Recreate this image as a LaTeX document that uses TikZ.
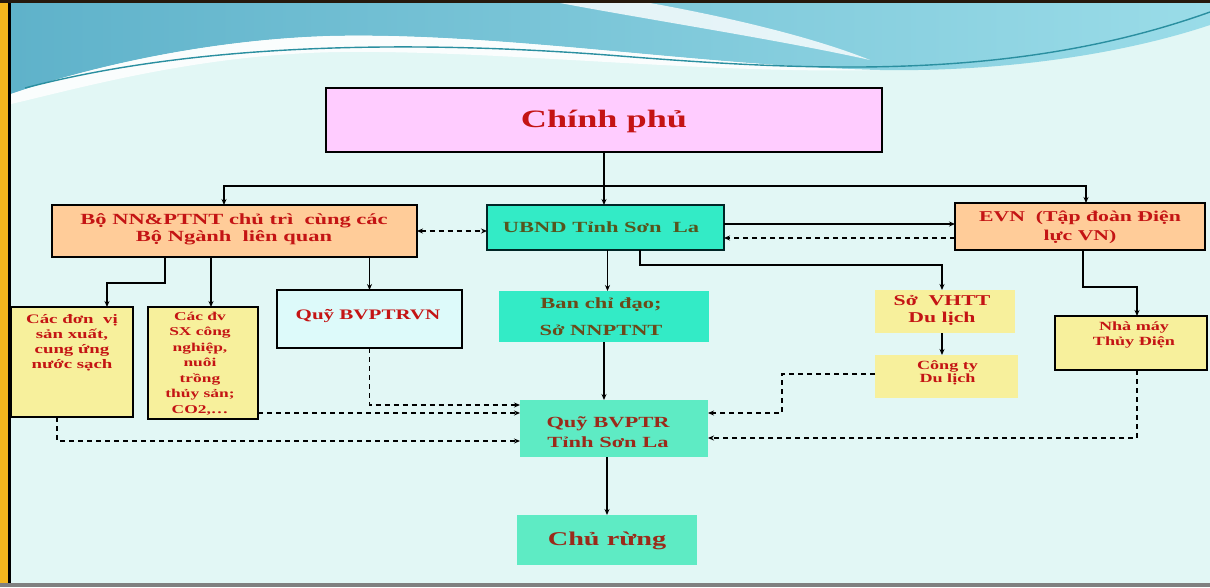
\documentclass[tikz,border=0pt]{standalone}
\usepackage{fontspec}
\newfontfamily\dfont{Liberation Serif}[FakeStretch=1.45]
\usetikzlibrary{arrows.meta}
\definecolor{bg}{HTML}{E2F7F5}
\definecolor{pinkbox}{HTML}{FFCCFF}
\definecolor{orangebox}{HTML}{FFCC99}
\definecolor{turq}{HTML}{33EBC6}
\definecolor{turqlight}{HTML}{5EEBC4}
\definecolor{yellowbox}{HTML}{F7F09C}
\definecolor{cyanbox}{HTML}{DDFAFA}
\definecolor{txtred}{HTML}{C41414}
\definecolor{txtolive}{HTML}{55561E}
\definecolor{txtbrown}{HTML}{6B4A1A}
\definecolor{txtdred}{HTML}{9A2A1A}
\definecolor{wavedark}{HTML}{5FB2CA}
\definecolor{wavelight}{HTML}{9ADCE8}
\definecolor{waveline}{HTML}{2A8FA0}
\definecolor{goldstrip}{HTML}{F4B71E}
\tikzset{
  box/.style={rectangle, inner sep=0pt, outer sep=0pt},
  bbox/.style={box, draw=black, line width=1.6pt},
  txt/.style={inner sep=0pt, align=center, text=txtred},
  conn/.style={line width=1.7pt, draw=black, -{Stealth[length=6pt,width=5pt]}},
  dconn/.style={conn, dash pattern=on 5pt off 4pt},
  dconnb/.style={line width=1.7pt, draw=black, dash pattern=on 5pt off 4pt, {Stealth[length=6pt,width=5pt]}-{Stealth[length=6pt,width=5pt]}},
}
\newcommand{\fs}[2]{\dfont\bfseries\fontsize{#1}{#2}\selectfont}
\begin{document}
\begin{tikzpicture}[x=1pt,y=-1pt]
\useasboundingbox (0,0) rectangle (1210,587);
% background
\fill[bg] (0,0) rectangle (1210,587);
% top wave decoration
\shade[left color=wavedark, right color=wavelight] (11,3) -- (1210,3) -- (1210,25)
  .. controls (1120,55) and (1000,72) .. (880,70)
  .. controls (700,66) and (500,32) .. (330,36)
  .. controls (200,40) and (80,70) .. (11,94) -- cycle;
\fill[white, opacity=0.85] (11,94) .. controls (80,70) and (200,40) .. (330,36)
  .. controls (500,32) and (700,66) .. (880,70)
  .. controls (700,74) and (500,50) .. (340,52)
  .. controls (200,54) and (80,88) .. (11,104) -- cycle;
\fill[white, opacity=0.8] (560,3) .. controls (650,20) and (780,40) .. (870,60)
  .. controls (800,32) and (700,12) .. (650,3) -- cycle;
\draw[waveline, line width=1.4pt] (25,88) .. controls (200,42) and (420,40) .. (620,56)
  .. controls (820,72) and (1020,80) .. (1210,12);
% frame
\fill[goldstrip] (0,0) rectangle (8,587);
\fill[black] (8,0) rectangle (11,587);
\fill[black!80!brown] (0,0) rectangle (1210,3);
\fill[gray] (0,583) rectangle (1210,587);

% boxes
\node[bbox, fill=pinkbox, minimum width=556pt, minimum height=64pt] (cp) at (604,120) {};
\node[bbox, fill=orangebox, minimum width=365pt, minimum height=52pt] (bo) at (234.5,231) {};
\node[bbox, fill=turq, draw=black!70!teal, minimum width=237pt, minimum height=45pt] (ub) at (605.5,227.5) {};
\node[bbox, fill=orangebox, minimum width=250pt, minimum height=47pt] (evn) at (1080,226.5) {};
\node[bbox, fill=yellowbox, minimum width=122pt, minimum height=110pt] (dv1) at (72,362) {};
\node[bbox, fill=yellowbox, minimum width=110pt, minimum height=112pt] (dv2) at (203,363) {};
\node[bbox, fill=cyanbox, minimum width=185pt, minimum height=58pt] (qvn) at (369.5,319) {};
\node[box, fill=turq, minimum width=210pt, minimum height=51pt] (bcd) at (604,316.5) {};
\node[box, fill=yellowbox, minimum width=140pt, minimum height=43pt] (vh) at (945,311.5) {};
\node[box, fill=yellowbox, minimum width=143pt, minimum height=43pt] (ct) at (946.5,376.5) {};
\node[bbox, fill=yellowbox, minimum width=152pt, minimum height=54pt] (nm) at (1131,343) {};
\node[box, fill=turqlight, minimum width=188pt, minimum height=57pt] (qsl) at (614,428.5) {};
\node[box, fill=turqlight, minimum width=180pt, minimum height=50pt] (cr) at (607,540) {};

% texts
\node[txt, font=\fs{25}{30}] (cpt) at (604,121) {Chính phủ};
\node[txt, font=\fs{15.5}{17}] (bot) at (234,229) {Bộ NN\&PTNT chủ trì\ \ cùng các\\Bộ Ngành\ \ liên quan};
\node[txt, font=\fs{15.5}{18}, text=txtolive] (ubt) at (601,227) {UBND Tỉnh Sơn\ \ La};
\node[txt, font=\fs{15}{19}] (evnt) at (1080,227) {EVN\ \ (Tập đoàn Điện\\lực VN)};
\node[txt, font=\fs{13}{15}] (dv1t) at (72,342.5) {Các đơn\ \ vị\\sản xuất,\\cung ứng\\nước sạch};
\node[txt, font=\fs{12}{15.5}] (dv2t) at (200,363.5) {Các đv\\SX công\\nghiệp,\\nuôi\\trồng\\thủy sản;\\CO2,…};
\node[txt, font=\fs{14.5}{17}] (qvnt) at (368,316) {Quỹ BVPTRVN};
\node[txt, font=\fs{15.5}{27}, text=txtbrown] (bcdt) at (601,316.5) {Ban chỉ đạo;\\Sở NNPTNT};
\node[txt, font=\fs{15}{17}] (vht) at (942,310.5) {Sở\ \ VHTT\\Du lịch};
\node[txt, font=\fs{12.5}{13}] (ctt) at (947.5,372.5) {Công ty\\Du lịch};
\node[txt, font=\fs{12.5}{15}] (nmt) at (1134,334.5) {Nhà máy\\Thủy Điện};
\node[txt, font=\fs{15.5}{20}, text=txtdred] (qslt) at (608,432) {Quỹ BVPTR\\Tỉnh Sơn La};
\node[txt, font=\fs{19.5}{22}, text=txtdred] (crt) at (607,541) {Chủ rừng};

% connectors
\coordinate (j) at (cp.south |- 0,186);
\draw[conn] (cp.south) -- (cp.south |- ub.north);
\draw[conn] (j) -| ([xshift=-10.5pt]bo.north);
\draw[conn] (j) -| ([xshift=6pt]evn.north);
\draw[dconnb] (bo.east) -- (bo.east -| ub.west);
\draw[conn] ([yshift=3.5pt]ub.east) -- ([yshift=3.5pt]ub.east -| evn.west);
\draw[dconn] ([yshift=-11.5pt]evn.west) -- ([yshift=-11.5pt]evn.west -| ub.east);
\draw[conn] ([xshift=-69.5pt]bo.south) -- ++(0,26) -| ([xshift=35pt]dv1.north);
\draw[conn] ([xshift=8pt]dv2.north |- bo.south) -- ([xshift=8pt]dv2.north);
\draw[conn] (qvn.north |- bo.south) -- (qvn.north);
\draw[conn] ([xshift=2pt]ub.south) -- ([xshift=2pt]ub.south |- bcd.north);
\draw[conn] ([xshift=34.5pt]ub.south) -- ++(0,15) -| ([xshift=-3pt]vh.north);
\draw[conn] ([xshift=-3pt]vh.south) -- ([xshift=-3pt]vh.south |- ct.north);
\draw[conn] ([xshift=3pt]evn.south) -- ++(0,37) -| ([xshift=6pt]nm.north);
\draw[conn] (bcd.south) -- (bcd.south |- qsl.north);
\draw[conn] (cr.north |- qsl.south) -- (cr.north);
\draw[dconn] (qvn.south) |- ([yshift=23.5pt]qsl.west);
\draw[dconn] ([yshift=-50pt]dv2.east) -- ([yshift=-50pt]dv2.east -| qsl.west);
\draw[dconn] ([xshift=-15pt]dv1.south) |- ([yshift=-12.5pt]qsl.west);
\draw[dconn] ([yshift=2.5pt]ct.west) -- ++(-93,0) |- ([yshift=15.5pt]qsl.east);
\draw[dconn] ([xshift=6pt]nm.south) |- ([yshift=-9.5pt]qsl.east);
\end{tikzpicture}
\end{document}
